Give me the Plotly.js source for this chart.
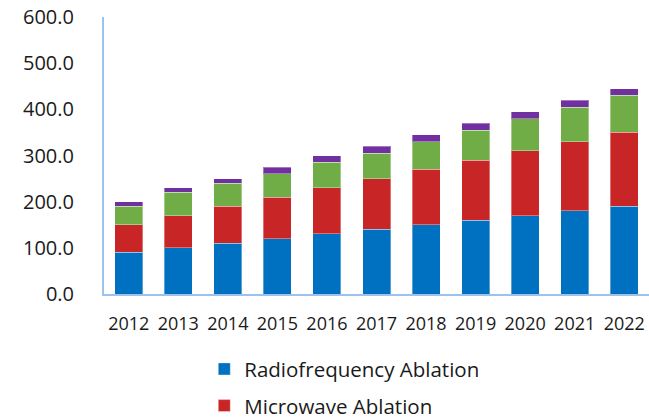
<!DOCTYPE html>
<html>
<head>
<meta charset="utf-8">
<script src="https://cdn.plot.ly/plotly-3.0.1.min.js"></script>
<style>html,body{margin:0;padding:0;background:#fff;}#chart{width:649px;height:420px;}</style>
</head>
<body>
<div id="chart"></div>
<script>
const years = ['2012','2013','2014','2015','2016','2017','2018','2019','2020','2021','2022'];
const radiofrequency = [90, 100, 110, 120, 130, 140, 150, 160, 170, 180, 190];
const microwave = [60, 70, 80, 90, 100, 110, 120, 130, 140, 150, 160];
const cryoablation = [40, 50, 50, 50, 55, 55, 60, 65, 70, 75, 80];
const others = [10, 10, 10, 15, 15, 15, 15, 15, 15, 15, 15];
const yTicks = [0, 100, 200, 300, 400, 500, 600];

const FONT = '"Open Sans", Lato, sans-serif';
const outline = {color: 'rgba(255,255,255,0.35)', width: 1};

function bar(name, values, color, show, group) {
  return {type: 'bar', name: name, x: years, y: values,
          marker: {color: color, line: outline},
          showlegend: show, legendgroup: group, hoverinfo: 'x+y+name'};
}

const data = [
  bar('Radiofrequency Ablation', radiofrequency, '#0070C0', true, 'a'),
  bar('Microwave Ablation', microwave, '#C82626', true, 'b'),
  bar('Cryoablation', cryoablation, '#70AD47', false, 'c'),
  bar('Others', others, '#7030A0', false, 'd')
];

const layout = {
  width: 649, height: 420,
  barmode: 'stack', bargap: 0.435,
  margin: {l: 104, r: 0, t: 17, b: 126, autoexpand: false},
  paper_bgcolor: '#fff', plot_bgcolor: '#fff',
  font: {family: FONT, size: 18, color: '#1a1a1a'},
  xaxis: {type: 'category', tickmode: 'array', tickvals: years, ticktext: years, tickangle: 0,
          showline: true, linecolor: '#9cc2ef', linewidth: 2, showgrid: false,
          ticks: '', ticklabelstandoff: 12, tickfont: {size: 18, family: FONT}, fixedrange: true},
  yaxis: {range: [0, 600], tickvals: yTicks, tickformat: '.1f', showline: true,
          linecolor: '#9cc2ef', linewidth: 2, showgrid: false, zeroline: false, ticks: '',
          ticklabelstandoff: 24, tickfont: {size: 20, family: FONT}, fixedrange: true},
  legend: {orientation: 'v', x: 0.184, xanchor: 'left', y: -0.199, yanchor: 'top',
           traceorder: 'grouped', tracegroupgap: 7, font: {size: 20.5, family: FONT, color: '#1a1a1a'},
           bgcolor: 'rgba(0,0,0,0)'},
  showlegend: true
};

Plotly.newPlot('chart', data, layout, {displayModeBar: false, staticPlot: true});
</script>
</body>
</html>
